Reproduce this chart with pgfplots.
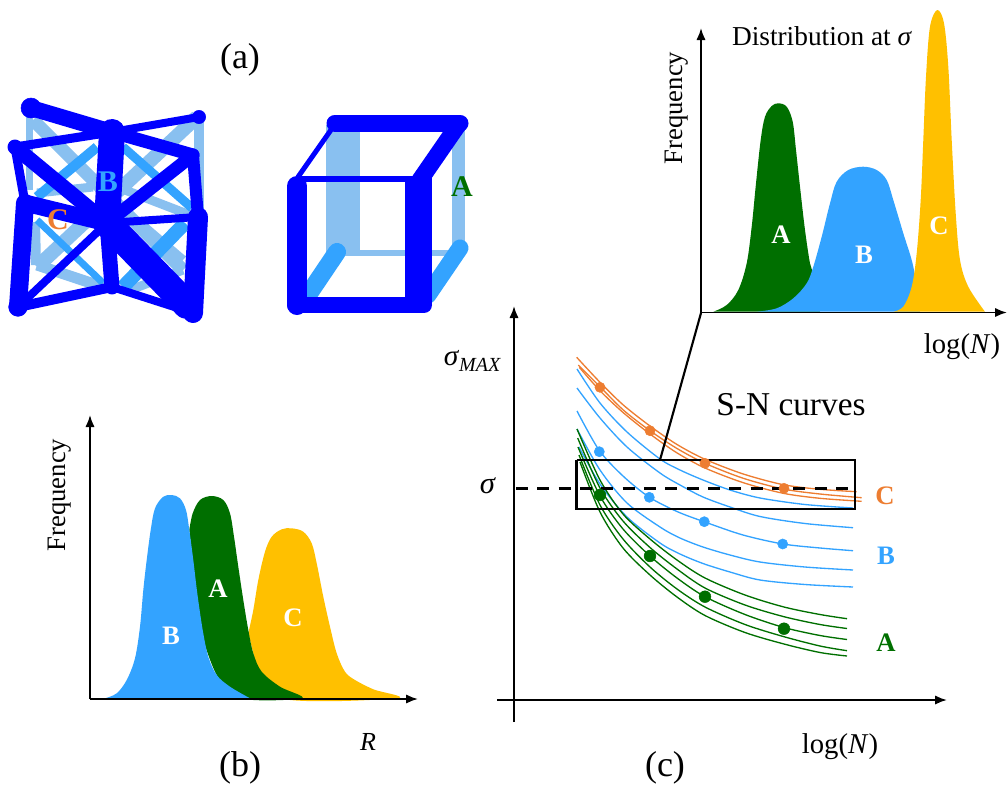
\documentclass[border=0pt]{standalone}
\usepackage{fontspec}
\setmainfont{Liberation Serif}
\usepackage{pgfplots}
\pgfplotsset{compat=1.18}
\usetikzlibrary{arrows.meta}
\definecolor{dk}{HTML}{0000FF}
\definecolor{md}{HTML}{33A3FF}
\definecolor{lt}{HTML}{89C0F0}
\definecolor{gr}{HTML}{006F00}
\definecolor{yl}{HTML}{FFC000}
\definecolor{or}{HTML}{ED7D31}
\tikzset{
 S/.style={line width=#1*0.75pt,line cap=round,line join=round},
 B/.style={line width=#1*0.75pt,line cap=butt},
 lab/.style={font=\fontsize{#1}{#1}\selectfont},
 W/.style={font=\fontsize{20}{20}\selectfont\bfseries,text=white},
 ax/.style={black,line width=1.4pt,-{Latex[length=9pt,width=7pt]}}
}
\begin{document}
\begin{tikzpicture}
\begin{axis}[width=756pt,height=592.5pt,scale only axis,xmin=0,xmax=1008,ymin=0,ymax=790,y dir=reverse,hide axis,clip=false]
\path (axis cs:0,0) rectangle (axis cs:1008,790);
% ---- (a) left lattice, light struts
\addplot[lt,B=7] coordinates {(29,108)(29,190)};
\addplot[lt,B=10] coordinates {(199,117)(199,215)};
\addplot[lt,B=10] coordinates {(35,222)(36,265)};
\addplot[lt,B=13] coordinates {(33,120)(183,270)};
\addplot[lt,B=14] coordinates {(197,117)(37,267)};
\addplot[lt,B=11] coordinates {(37,265)(103,287)};
\addplot[lt,B=9] coordinates {(130,290)(183,270)};
\addplot[lt,B=9] coordinates {(37,193)(93,187)};
\addplot[lt,B=9] coordinates {(125,190)(190,215)};
\addplot[lt,B=9] coordinates {(140,223)(183,260)};
% mid struts
\addplot[md,B=10] coordinates {(97,147)(37,197)};
\addplot[md,B=9] coordinates {(123,147)(192,208)};
\addplot[md,B=7] coordinates {(37,220)(103,283)};
\addplot[md,B=14] coordinates {(123,287)(185,223)};
% dark struts
\addplot[dk,S=16] coordinates {(31,108)(112,132)};
\addplot[dk,S=8] coordinates {(112,132)(199,117)};
\addplot[dk,S=9] coordinates {(15,147)(112,132)};
\addplot[dk,S=13] coordinates {(112,132)(193,155)};
\addplot[dk,S=26] coordinates {(112,132)(107,223)};
\addplot[dk,S=15] coordinates {(107,223)(112,287)};
\addplot[dk,S=9] coordinates {(15,147)(25,203)};
\addplot[dk,S=15] coordinates {(15,147)(107,223)};
\addplot[dk,S=13] coordinates {(193,155)(107,223)};
\addplot[dk,S=12] coordinates {(193,155)(198,217)};
\addplot[dk,S=17] coordinates {(25,203)(107,223)};
\addplot[dk,S=8] coordinates {(107,223)(198,217)};
\addplot[dk,S=18] coordinates {(25,203)(18,307)};
\addplot[dk,S=20] coordinates {(198,217)(193,313)};
\addplot[dk,S=28] coordinates {(107,223)(187,305)};
\addplot[dk,S=8] coordinates {(107,223)(18,307)};
\addplot[dk,S=10] coordinates {(18,307)(112,287)};
\addplot[dk,S=8] coordinates {(112,287)(193,313)};
\addplot[only marks,mark=*,mark size=7.5pt,mark options={draw=dk,fill=dk}] coordinates {(31,108)};
\addplot[only marks,mark=*,mark size=5pt,mark options={draw=dk,fill=dk}] coordinates {(199,117)(15,147)};
\addplot[only marks,mark=*,mark size=7pt,mark options={draw=dk,fill=dk}] coordinates {(193,313)(18,307)};
% ---- (a) cube
\addplot[lt,B=34] coordinates {(343,125)(343,252)};
\addplot[lt,B=13] coordinates {(458,130)(458,245)};
\addplot[lt,B=6] coordinates {(343,253)(460,253)};
\addplot[md,S=18] coordinates {(337,252)(308,295)};
\addplot[md,S=17] coordinates {(460,248)(428,295)};
\addplot[dk,S=17] coordinates {(335,123)(460,123)};
\addplot[dk,S=17] coordinates {(458,125)(420,180)};
\addplot[dk,S=5] coordinates {(333,127)(298,177)};
\addplot[dk,B=6] coordinates {(297,179)(418,179)};
\addplot[dk,S=20] coordinates {(297,186)(297,305)};
\addplot[dk,B=27] coordinates {(418.5,177)(418.5,305)};
\addplot[dk,S=16] coordinates {(295,305)(424,305)};
% ---- (b) distributions
\addplot[fill=yl,draw=none,smooth,tension=0.55] coordinates {(248.3,633.3)(253.3,610)(258.3,580)(265,551.7)(271.7,536.7)(281.7,529.3)(291.7,528.3)(303.3,531.7)(311.7,543.3)(316.7,563.3)(323.3,596.7)(330,626.7)(336.7,653.3)(345,671.7)(355,680)(373.3,689.3)(396.7,698.3)(280,698.3)(255,660)};
\addplot[fill=gr,draw=none,smooth,tension=0.55] coordinates {(189.3,530)(192.7,513.3)(200,500)(211.7,496)(223.3,500)(230,513.3)(234,536.7)(238.3,566.7)(243.3,600)(248.3,630)(253.3,653.3)(261.7,671.7)(280,686.7)(301.7,698.3)(240,698.3)(216.7,675)(200,630)};
\addplot[fill=md,draw=none,smooth,tension=0.55] coordinates {(105,698.3)(116.7,693.3)(126.7,680)(135,658.3)(140,626.7)(143.3,590)(146.7,560)(150.7,530)(155,508.3)(163.3,496.7)(171.7,495)(180,498.3)(186,510)(189.3,530)(193.3,560)(197.3,593.3)(202.7,630)(208.3,656.7)(216.7,675)(230,686.7)(250,698.3)};
\addplot[ax] coordinates {(90,699)(90,415)};
\addplot[ax] coordinates {(90,699)(418,699)};
% ---- inset distributions
\addplot[fill=gr,draw=none,smooth,tension=0.55] coordinates {(713.3,311.7)(726.7,305)(738.3,290)(746.7,263.3)(751.7,226.7)(756,183.3)(760.7,140)(765,116.7)(771.7,106)(778.3,103.3)(786.7,106.7)(792.7,121.7)(796,150)(800,186.7)(805,230)(810,263.3)(814,276.7)(820,311.7)};
\addplot[fill=md,draw=none,smooth,tension=0.55] coordinates {(756.7,311.7)(776.7,308.3)(793.3,298.3)(806.7,283.3)(813.3,266.7)(821.7,236.7)(830,203.3)(836.7,181.7)(848.3,170)(863.3,166.7)(876.7,170)(886.7,180)(893.3,200)(903.3,233.3)(913.3,266.7)(920,311.7)};
\addplot[fill=yl,draw=none,smooth,tension=0.55] coordinates {(893.3,311.7)(903.3,306.7)(911.7,286.7)(916.7,253.3)(920.7,200)(923.3,140)(926,76.7)(930,26.7)(937.3,10)(944,23.3)(948.3,66.7)(951.7,140)(955.7,213.3)(960,260)(968.3,286.7)(985,311.7)};
\addplot[ax] coordinates {(701,313)(701,28)};
\addplot[ax] coordinates {(701,312.5)(1007,312.5)};
% ---- (c) S-N curves
\addplot[or,line width=1pt,smooth] coordinates {(576.7,357.3)(600,382.3)(623.3,405)(650,426)(676.7,444.3)(705,459.3)(743.3,474)(783.3,484.7)(820,489.3)(856.7,491.7)};
\addplot[or,line width=1pt,smooth] coordinates {(578.3,365)(600,386.7)(623.3,410)(650,430.7)(676.7,448.3)(705,463.3)(743.3,478.3)(783.3,489)(820,494)(861.7,497.7)};
\addplot[or,line width=1pt,smooth] coordinates {(579.3,367.3)(600,390.7)(623.3,412.7)(650,434)(676.7,452.7)(705,468)(743.3,482.7)(783.3,493.3)(820,498.3)(861.7,501.3)};
\addplot[md,line width=1pt,smooth] coordinates {(577,369)(600,403)(627,432)(660,459)(680,470)(703,480)(730,490)(760,498)(805,504.5)(853,508)};
\addplot[md,line width=1pt,smooth] coordinates {(577,388)(600,418)(627,447)(660,473)(680,485)(703,497)(730,507)(760,516.5)(805,523.5)(853,527.7)};
\addplot[md,line width=1pt,smooth] coordinates {(577,411)(599,450)(623,476)(649,497)(677,511.5)(704,521.7)(743,535)(783,544)(820,548)(853,550.7)};
\addplot[md,line width=1pt,smooth] coordinates {(577,429)(600,470)(627,503)(660,527)(680,538)(703,547)(730,555)(760,562)(805,567)(853,570)};
\addplot[md,line width=1pt,smooth] coordinates {(579,447)(600,484)(627,517)(660,543)(680,554)(703,563.5)(730,572)(760,580)(805,584.5)(853,587)};
\addplot[gr,line width=1pt,smooth] coordinates {(577,429)(600,480)(623,514)(650,539)(677,560)(705,578)(745,595)(784,607)(820,614.5)(847,618.7)};
\addplot[gr,line width=1pt,smooth] coordinates {(577.7,438)(600,488)(623,521)(650,547.5)(677,569)(705,588)(745,605)(784,616.7)(820,624.5)(847,628.5)};
\addplot[gr,line width=1pt,smooth] coordinates {(578,447)(600,496)(623,529)(650,556)(677,578)(705,596.7)(745,614.5)(784,627.5)(820,635.5)(847,639.5)};
\addplot[gr,line width=1pt,smooth] coordinates {(579,455)(600,505)(623,539)(650,567)(677,589)(705,607)(745,624.5)(784,636.7)(820,646)(847,650.7)};
\addplot[gr,line width=1pt,smooth] coordinates {(580,462)(600,512)(623,548)(650,575)(677,597)(705,615.5)(745,632.5)(784,644)(820,652.5)(847,656)};
\addplot[only marks,mark=*,mark size=3.8pt,mark options={draw=or,fill=or}] coordinates {(600,387.3)(650,430.7)(705,463.3)(784,488.3)};
\addplot[only marks,mark=*,mark size=3.8pt,mark options={draw=md,fill=md}] coordinates {(599.3,451.7)(649.3,497.3)(704.3,521.7)(782.7,544)};
\addplot[only marks,mark=*,mark size=4.4pt,mark options={draw=gr,fill=gr}] coordinates {(600,495)(650,556)(705,596.7)(784,628.7)};
\addplot[black,line width=1.6pt] coordinates {(576.5,460)(855,460)(855,509.3)(576.5,509.3)(576.5,460)};
\addplot[black,line width=2.2pt,dash pattern=on 9pt off 7pt] coordinates {(516,488.3)(855,488.3)};
\addplot[black,line width=1.6pt] coordinates {(701,313)(660,460)};
\addplot[ax] coordinates {(514,722)(514,306)};
\addplot[ax] coordinates {(497,700)(947,700)};
% ---- text
\node[lab=27] at (axis cs:240,60) {(a)};
\node[lab=27] at (axis cs:240,768) {(b)};
\node[lab=27] at (axis cs:665,768) {(c)};
\node[lab=20,rotate=90] at (axis cs:60,495) {Frequency};
\node[lab=20,rotate=90] at (axis cs:677,108) {Frequency};
\node[lab=19.5] at (axis cs:368,742) {\itshape R};
\node[lab=21.5] at (axis cs:840,747) {log(\textit{N})};
\node[lab=21.5] at (axis cs:962,347) {log(\textit{N})};
\node[lab=22] at (axis cs:472,361) {\textit{σ}\raisebox{-4pt}{\fontsize{15}{15}\selectfont\itshape MAX}};
\node[lab=23] at (axis cs:488,486) {\textit{σ}};
\node[lab=25] at (axis cs:791,405) {S-N curves};
\node[lab=20.5] at (axis cs:822,36) {Distribution at \textit{σ}};
\node[W,text=gr,font=\fontsize{22.5}{22.5}\selectfont\bfseries] at (axis cs:462,187) {A};
\node[W,text=md,font=\fontsize{22.5}{22.5}\selectfont\bfseries] at (axis cs:108,182) {B};
\node[W,text=or,font=\fontsize{22.5}{22.5}\selectfont\bfseries] at (axis cs:58,220) {C};
\node[W] at (axis cs:171,636) {B};
\node[W] at (axis cs:218,589) {A};
\node[W] at (axis cs:293,618) {C};
\node[W] at (axis cs:781,235) {A};
\node[W] at (axis cs:864,255) {B};
\node[W] at (axis cs:939,226) {C};
\node[W,text=or] at (axis cs:885,496) {C};
\node[W,text=md] at (axis cs:886,556) {B};
\node[W,text=gr] at (axis cs:886,643) {A};
\end{axis}
\end{tikzpicture}
\end{document}
